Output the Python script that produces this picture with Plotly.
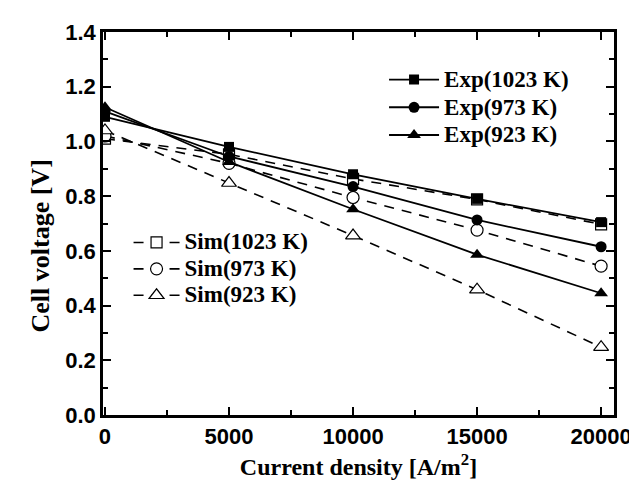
import plotly.graph_objects as go

current = [0, 5000, 10000, 15000, 20000]
exp_1023 = [1.09, 0.98, 0.88, 0.79, 0.705]
exp_973 = [1.11, 0.945, 0.835, 0.713, 0.615]
exp_923 = [1.125, 0.925, 0.752, 0.586, 0.445]
sim_1023 = [1.01, 0.953, 0.863, 0.788, 0.697]
sim_973 = [1.02, 0.92, 0.795, 0.676, 0.544]
sim_923 = [1.04, 0.848, 0.656, 0.458, 0.248]

exp_names = ["Exp(1023 K)", "Exp(973 K)", "Exp(923 K)"]
sim_names = ["Sim(1023 K)", "Sim(973 K)", "Sim(923 K)"]

fig = go.Figure()

exp_series = [exp_1023, exp_973, exp_923]
sim_series = [sim_1023, sim_973, sim_923]
exp_symbols = ["square", "circle", "triangle-up"]
sim_symbols = ["square", "circle", "triangle-up"]
exp_sizes = [10, 11, 12]
sim_sizes = [11, 12, 13]


def big(name):
    return "<span style='font-size:23px'><b>%s</b></span>" % name


for name, vals, sym, sz in zip(sim_names, sim_series, sim_symbols, sim_sizes):
    fig.add_trace(go.Scatter(
        x=current, y=vals, name=big(name), mode="lines+markers",
        line=dict(color="black", width=1.6, dash="10px,8px"),
        marker=dict(symbol=sym, size=sz, color="white",
                    line=dict(color="black", width=1.2)),
        legend="legend2",
    ))

for name, vals, sym, sz in zip(exp_names, exp_series, exp_symbols, exp_sizes):
    fig.add_trace(go.Scatter(
        x=current, y=vals, name=big(name), mode="lines+markers",
        line=dict(color="black", width=1.8),
        marker=dict(symbol=sym, size=sz, color="black"),
        legend="legend",
    ))

tickfont = dict(family="Liberation Sans", size=22, color="black")

fig.update_layout(
    width=637, height=481,
    margin=dict(l=95, r=31, t=20, b=72),
    plot_bgcolor="white", paper_bgcolor="white",
    font=dict(family="Liberation Sans", color="black"),
    xaxis=dict(
        range=[-80, 20520],
        tickvals=[0, 5000, 10000, 15000, 20000],
        ticktext=["<b>0</b>", "<b>5000</b>", "<b>10000</b>", "<b>15000</b>", "<b>20000</b>"],
        ticks="inside", ticklen=8, tickwidth=2, tickcolor="black",
        minor=dict(dtick=2500, tick0=0, ticks="inside", ticklen=5, tickwidth=2, tickcolor="black"),
        showline=True, linewidth=2.5, linecolor="black", mirror="ticks",
        showgrid=False, zeroline=False,
        tickfont=tickfont,
        title=dict(text="<b>Current density [A/m<sup>2</sup>]</b>",
                   font=dict(family="Liberation Serif", size=24, color="black"), standoff=11),
    ),
    yaxis=dict(
        range=[0, 1.4],
        tickvals=[0, 0.2, 0.4, 0.6, 0.8, 1.0, 1.2, 1.4],
        ticktext=["<b>%.1f</b>" % v for v in [0, 0.2, 0.4, 0.6, 0.8, 1.0, 1.2, 1.4]],
        ticks="inside", ticklen=8, tickwidth=2, tickcolor="black",
        minor=dict(dtick=0.1, tick0=0, ticks="inside", ticklen=5, tickwidth=2, tickcolor="black"),
        showline=True, linewidth=2.5, linecolor="black", mirror="ticks",
        showgrid=False, zeroline=False,
        tickfont=tickfont,
    ),
    annotations=[dict(
        text="<b>Cell voltage [V]</b>", textangle=-90,
        xref="paper", yref="paper", x=0, y=0.44, xshift=-63,
        xanchor="center", yanchor="middle", showarrow=False,
        font=dict(family="Liberation Serif", size=26, color="black"),
    )],
    legend=dict(
        x=0.55, y=0.925, xanchor="left", yanchor="top",
        bgcolor="rgba(0,0,0,0)", font=dict(family="Liberation Serif", size=19, color="black"),
        itemwidth=50, tracegroupgap=0, traceorder="normal",
    ),
    legend2=dict(
        x=0.05, y=0.498, xanchor="left", yanchor="top",
        bgcolor="rgba(0,0,0,0)", font=dict(family="Liberation Serif", size=18, color="black"),
        itemwidth=46, tracegroupgap=0, traceorder="normal",
    ),
)

fig.write_html("out.html")
